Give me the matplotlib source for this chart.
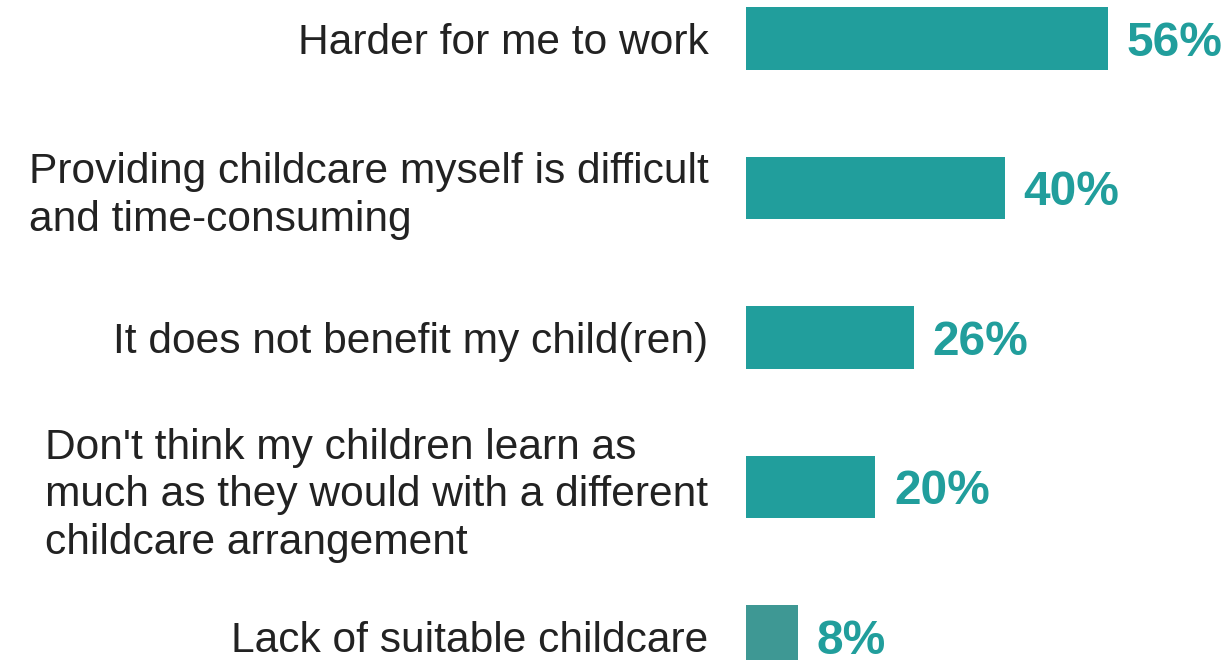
import matplotlib.pyplot as plt

plt.rcParams["font.family"] = ["Liberation Sans", "DejaVu Sans"]

reasons = [
    "Harder for me to work",
    "Providing childcare myself is difficult\nand time-consuming",
    "It does not benefit my child(ren)",
    "Don't think my children learn as\nmuch as they would with a different\nchildcare arrangement",
    "Lack of suitable childcare",
]
shares = [56, 40, 26, 20, 8]
bar_colors = ["#219e9c", "#219e9c", "#219e9c", "#219e9c", "#3e9894"]

TEAL = "#219e9c"
TEXT = "#222222"
VAL_SIZE = 34.5

fig = plt.figure(figsize=(12.29, 6.60), dpi=100)
# bars start at a fixed pixel column; labels sit in the space on the left
ax = fig.add_axes([746 / 1229, 0, 1 - 746 / 1229, 1])

pos = list(range(len(reasons)))
ax.barh(pos, shares, height=0.42, color=bar_colors)

ax.set_xlim(0, (1229 - 746) / 6.464)
ax.set_ylim((660 - 38.5) / 149.5, -38.5 / 149.5)

ax.set_yticks(pos)
ax.set_yticklabels(reasons, fontsize=30.6, color=TEXT, linespacing=1.25)
for lbl in ax.get_yticklabels():
    lbl.set_multialignment("left")
ax.tick_params(axis="y", length=0, pad=27)
ax.tick_params(axis="x", bottom=False, labelbottom=False)
for s in ax.spines.values():
    s.set_visible(False)

# value labels: baseline dropped by half the cap height so digits centre on the bar
for y, v in zip(pos, shares):
    ax.annotate(f"{v}%", xy=(v, y), xytext=(13.5, -VAL_SIZE * 0.716 / 2),
                textcoords="offset points", va="baseline", ha="left",
                fontsize=VAL_SIZE, fontweight="bold", color=TEAL)

fig.savefig("out.png", dpi=100)
